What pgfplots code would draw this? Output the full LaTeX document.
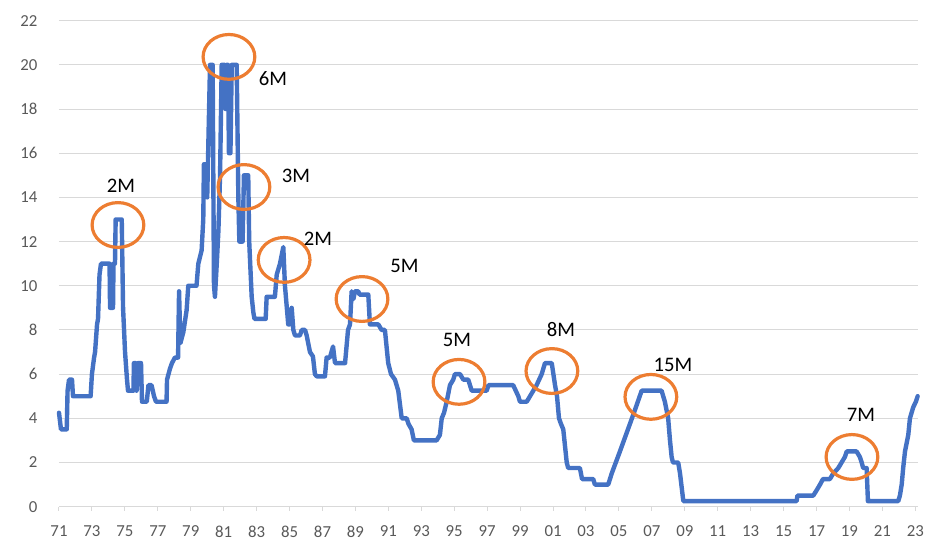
\documentclass[border=0pt]{standalone}
\usepackage{fontspec}
\setmainfont{Carlito}
\usepackage{pgfplots}
\pgfplotsset{compat=1.18}
\definecolor{xlblue}{HTML}{4472C4}
\definecolor{xlorange}{HTML}{ED7D31}
\definecolor{gridgray}{HTML}{D9D9D9}
\definecolor{labgray}{HTML}{595959}
\begin{document}
\begin{tikzpicture}
\begin{axis}[
  at={(0,0)}, anchor=south west,
  scale only axis,
  width=644.25pt, height=364.5pt,
  xmin=1971, xmax=2023.16,
  ymin=0, ymax=22,
  clip=false,
  axis lines=left,
  axis line style={-},
  x axis line style={draw=gridgray, line width=0.75pt},
  y axis line style={draw=none},
  ytick={0,2,...,22},
  xtick={1971,1973,...,2023},
  xticklabels={71,73,75,77,79,81,83,85,87,89,91,93,95,97,99,01,03,05,07,09,11,13,15,17,19,21,23},
  ymajorgrids,
  grid style={gridgray, line width=0.75pt},
  ytick style={draw=none},
  xtick style={draw=gridgray, line width=0.75pt},
  tick align=outside,
  major tick length=3pt,
  /pgf/number format/assume math mode=true,
  ticklabel style={font=\fontsize{12.6}{14}\selectfont, text=labgray},
  yticklabel style={anchor=east, inner sep=0pt, xshift=-13pt},
  xticklabel style={anchor=north, inner sep=0pt, yshift=-11pt},
]
\addplot[xlblue, line width=3.3pt, line join=round, line cap=round] coordinates {
(1971.00,4.25) (1971.12,3.5) (1971.47,3.5) (1971.52,5.25) (1971.61,5.75) (1971.79,5.75) (1971.85,5.0)
(1972.92,5.0) (1973.00,6.0) (1973.13,6.75) (1973.19,7.0) (1973.31,8.25) (1973.37,8.5) (1973.46,10.5)
(1973.55,11.0) (1974.07,11.0) (1974.10,9.0) (1974.28,9.0) (1974.31,11.0) (1974.40,11.0) (1974.44,13.0)
(1974.81,13.0) (1974.89,9.0) (1975.01,7.0) (1975.13,5.75) (1975.19,5.25) (1975.52,5.25) (1975.55,6.5)
(1975.65,6.5) (1975.71,5.25) (1975.80,6.5) (1975.98,6.5) (1976.04,4.75) (1976.33,4.75) (1976.43,5.5)
(1976.62,5.5) (1976.77,5.0) (1976.89,4.75) (1977.53,4.75) (1977.56,5.75) (1977.74,6.25) (1977.86,6.5)
(1978.04,6.75) (1978.23,6.75) (1978.29,9.75) (1978.37,7.4) (1978.55,7.9) (1978.75,8.9) (1978.85,10.0)
(1979.35,10.0) (1979.46,11.0) (1979.66,11.6) (1979.76,13.0) (1979.80,15.5) (1979.97,15.5) (1980.00,14.0)
(1980.17,20.0) (1980.33,20.0) (1980.41,10.0) (1980.47,9.5) (1980.58,11.0) (1980.68,12.5) (1980.78,15.0)
(1980.88,20.0) (1981.05,20.0) (1981.11,18.0) (1981.18,20.0) (1981.26,20.0) (1981.32,16.0) (1981.41,16.0)
(1981.49,20.0) (1981.79,20.0) (1981.89,14.0) (1981.95,12.0) (1982.15,12.0) (1982.23,15.0) (1982.49,15.0)
(1982.55,12.0) (1982.70,9.5) (1982.80,8.8) (1982.87,8.5) (1983.55,8.5) (1983.61,9.5) (1984.11,9.5)
(1984.22,10.5) (1984.42,11.0) (1984.62,11.75) (1984.72,10.0) (1984.92,8.25) (1985.03,8.25) (1985.13,9.0)
(1985.23,8.0) (1985.33,7.75) (1985.63,7.75) (1985.74,8.0) (1985.94,8.0) (1986.04,7.75) (1986.24,7.0)
(1986.42,6.8) (1986.54,6.0) (1986.65,5.9) (1987.15,5.9) (1987.25,6.75) (1987.45,6.75) (1987.64,7.25)
(1987.76,6.5) (1988.37,6.5) (1988.55,8.0) (1988.67,8.25) (1988.77,9.75) (1988.88,9.4) (1988.97,9.75)
(1989.17,9.75) (1989.25,9.6) (1989.78,9.6) (1989.88,8.25) (1990.39,8.25) (1990.59,8.0) (1990.79,8.0)
(1990.99,6.5) (1991.16,6.0) (1991.40,5.75) (1991.60,5.25) (1991.81,4.0) (1992.11,4.0) (1992.22,3.75)
(1992.41,3.5) (1992.55,3.0) (1993.93,3.0) (1994.13,3.25) (1994.24,4.0) (1994.38,4.25) (1994.54,4.75)
(1994.74,5.5) (1994.94,5.75) (1995.04,6.0) (1995.35,6.0) (1995.55,5.75) (1995.85,5.75) (1996.06,5.25)
(1996.97,5.25) (1997.08,5.5) (1998.58,5.5) (1998.89,5.0) (1998.99,4.75) (1999.40,4.75) (1999.60,5.0)
(1999.80,5.25) (2000.00,5.5) (2000.31,6.0) (2000.51,6.5) (2000.92,6.5) (2001.12,5.5) (2001.24,5.0)
(2001.36,4.0) (2001.48,3.75) (2001.62,3.5) (2001.83,2.0) (2001.92,1.75) (2002.63,1.75) (2002.76,1.25)
(2003.44,1.25) (2003.54,1.0) (2004.35,1.0) (2004.56,1.5) (2005.06,2.5) (2005.67,3.75) (2006.03,4.5)
(2006.38,5.25) (2007.59,5.25) (2007.79,4.75) (2007.99,4.0) (2008.10,3.0) (2008.20,2.25) (2008.28,2.0)
(2008.60,2.0) (2008.71,1.5) (2008.83,0.75) (2008.91,0.25) (2015.79,0.25) (2015.84,0.5) (2016.80,0.5)
(2017.01,0.75) (2017.21,1.0) (2017.39,1.25) (2017.81,1.25) (2018.01,1.5) (2018.32,1.75) (2018.52,2.0)
(2018.72,2.25) (2018.83,2.5) (2019.43,2.5) (2019.63,2.25) (2019.74,2.0) (2019.83,1.75) (2020.04,1.75)
(2020.12,0.25) (2021.96,0.25) (2022.06,0.5) (2022.17,1.0) (2022.26,1.75) (2022.37,2.5) (2022.57,3.25)
(2022.67,4.0) (2022.87,4.5) (2023.03,4.75) (2023.14,5.0)
};
\begin{scope}[xlorange, line width=2.4pt]
\draw (axis cs:1974.58,12.75) ellipse [x radius=19.4pt, y radius=16.8pt];
\draw (axis cs:1981.32,20.36) ellipse [x radius=19.4pt, y radius=16.8pt];
\draw (axis cs:1982.23,14.47) ellipse [x radius=19.4pt, y radius=16.8pt];
\draw (axis cs:1984.67,11.17) ellipse [x radius=19.4pt, y radius=16.8pt];
\draw (axis cs:1989.40,9.40) ellipse [x radius=19.4pt, y radius=16.8pt];
\draw (axis cs:1995.29,5.65) ellipse [x radius=19.4pt, y radius=16.8pt];
\draw (axis cs:2000.93,6.14) ellipse [x radius=19.4pt, y radius=16.8pt];
\draw (axis cs:2006.94,4.97) ellipse [x radius=19.4pt, y radius=16.8pt];
\draw (axis cs:2019.15,2.25) ellipse [x radius=19.4pt, y radius=16.8pt];
\end{scope}
\begin{scope}[every node/.style={font=\fontsize{15.5}{18}\selectfont, text=black, inner sep=0pt}]
\node at (axis cs:1974.76,14.52) {2M};
\node at (axis cs:1983.99,19.36) {6M};
\node at (axis cs:1985.39,14.97) {3M};
\node at (axis cs:1986.73,12.12) {2M};
\node at (axis cs:1991.98,10.90) {5M};
\node at (axis cs:1995.17,7.55) {5M};
\node at (axis cs:2001.48,8.00) {8M};
\node at (axis cs:2008.28,6.41) {15M};
\node at (axis cs:2019.69,4.15) {7M};
\end{scope}
\end{axis}
\pgfresetboundingbox
\path (-44.25pt,-32.5pt) rectangle (663pt,380pt);
\end{tikzpicture}
\end{document}
